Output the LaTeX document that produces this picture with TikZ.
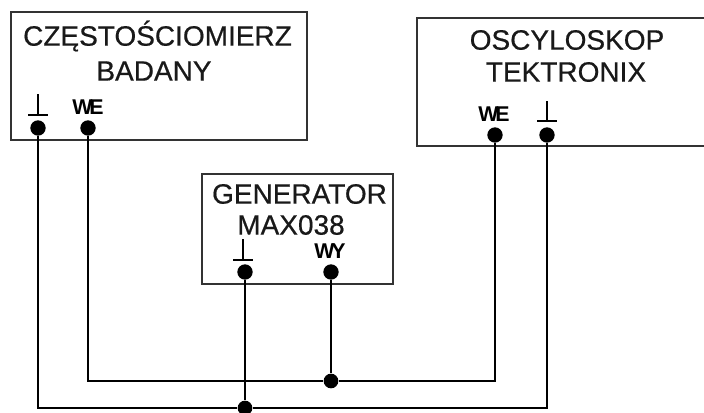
\documentclass[tikz,border=0pt]{standalone}
\usepackage{fontspec}
\setmainfont{Liberation Sans}
\newfontfamily\titlefont[FakeBold=0.5]{Liberation Sans}
\begin{document}
\begin{tikzpicture}[x=0.75pt,y=-0.75pt,
  box/.style={draw=black!80,line width=1pt,inner sep=0pt},
  title/.style={inner sep=0pt,anchor=center,font=\titlefont\fontsize{21}{24}\selectfont,text=black!90},
  small/.style={inner sep=0pt,anchor=center,font=\fontsize{16}{18}\selectfont\bfseries},
  term/.style={circle,fill=black,inner sep=0pt,minimum size=11.5pt},
  junction/.style={circle,fill=black,inner sep=0pt,minimum size=11pt},
  wire/.style={line width=2pt,draw=black},
  gndline/.style={line width=1.4pt,draw=black}]
\useasboundingbox (0,0) rectangle (704,412);
\fill[white] (0,0) rectangle (704,412);
% boxes
\node[box,minimum width=296*0.75pt,minimum height=128*0.75pt] (b1) at (159,76) {};
\node[box,minimum width=290*0.75pt,minimum height=128*0.75pt] (b2) at (562,82) {};
\node[box,minimum width=191*0.75pt,minimum height=110*0.75pt] (b3) at (297.5,229) {};
% titles
\node[title] (t1a) at (157.5,36) {CZĘSTOŚCIOMIERZ};
\node[title] (t1b) at (154,71) {BADANY};
\node[title] (t2a) at (567,40) {OSCYLOSKOP};
\node[title] (t2b) at (566,72) {TEKTRONIX};
\node[title] (t3a) at (299.5,194) {GENERATOR};
\node[title] (t3b) at (291,225) {MAX038};
% small labels
\node[small] (l1) at (88,107) {W\kern-2.5pt E};
\node[small] (l2) at (494,114) {W\kern-2.5pt E};
\node[small] (l3) at (330,251) {W\kern-2.5pt Y};
% terminals
\node[term] (p1g) at (38,128) {};
\node[term] (p1w) at (88,128) {};
\node[term] (p2w) at (495,135) {};
\node[term] (p2g) at (547,135) {};
\node[term] (p3g) at (245,272) {};
\node[term] (p3w) at (331,272) {};
% ground symbols
\foreach \n/\x/\ya/\yb in {g1/38/94/115, g2/547/101/121, g3/243/239/260}{
  \coordinate (\n t) at (\x,\ya);
  \coordinate (\n b) at (\x,\yb);
  \coordinate (\n l) at ([xshift=-7.5pt]\n b);
  \coordinate (\n r) at ([xshift=7.5pt]\n b);
  \draw[gndline] (\n t) -- (\n b);
  \draw[gndline] (\n l) -- (\n r);
}
% junctions
\node[junction] (j1) at (331,381) {};
\node[junction] (j2) at (245,408) {};
\coordinate (c1) at (88,381);
\coordinate (c2) at (495,381);
\coordinate (c3) at (38,408);
\coordinate (c4) at (547,408);
% wires
\draw[wire] (p1w) -- (c1) -- (j1) -- (c2) -- (p2w);
\draw[wire] (p1g) -- (c3) -- (j2) -- (c4) -- (p2g);
\draw[wire] (p3g) -- (j2);
\draw[wire] (p3w) -- (j1);
\end{tikzpicture}
\end{document}
